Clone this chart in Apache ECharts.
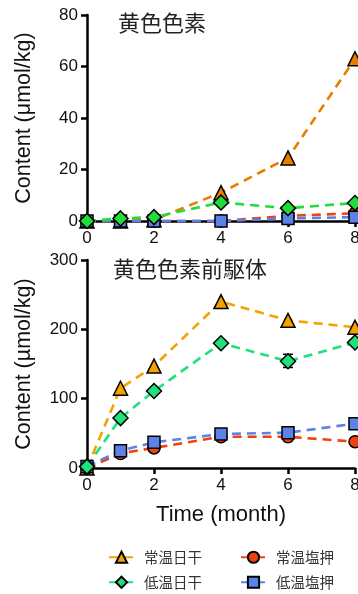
<!DOCTYPE html>
<html><head><meta charset="utf-8">
<script src="https://cdn.jsdelivr.net/npm/echarts@6/dist/echarts.min.js"></script>
<style>html,body{margin:0;padding:0;background:#fff}#c{width:358px;height:594px}</style>
</head><body><div id="c"></div>
<script>
// Data
const months = [0, 1, 2, 4, 6, 8];
const xTicks = [0, 2, 4, 6, 8];
const names = ['常温日干', '常温塩押', '低温日干', '低温塩押'];
const titleTop = '黄色色素';
const titleBottom = '黄色色素前駆体';
// top panel (yellow pigment)
const topNormalSun = [0, 0, 0.5, 11, 24.5, 63];
const topNormalSalt = [0, 0, 0, 0, 2, 3];
const topLowSun = [0, 1, 1.5, 7.2, 5, 7];
const topLowSalt = [0, 0, 0, 0, 1, 1.5];
// bottom panel (precursor)
const botNormalSun = [0, 115, 147, 240, 213, 203];
const botNormalSalt = [0, 21, 29, 45, 45, 38];
const botLowSun = [2, 72, 111, 180, 154, 181];
const botLowSalt = [2, 25, 37, 49, 51, 64];
// error bar on bottom 低温日干 at 6 months: [x, low, high]
const botLowSunErr = [[6, 145, 164]];

const FONT = 'Liberation Sans, Arial, Helvetica, sans-serif';
const CJK = '"Noto Sans CJK JP", "Noto Sans CJK SC", sans-serif';

function pts(vals) { return months.map((m, i) => [m, vals[i]]); }

const styles = {
  '常温日干': {sym: 'triangle', size: 14, top: '#E87D00', bot: '#F5A100'},
  '常温塩押': {sym: 'circle', size: 12, top: '#F2410D', bot: '#F2410D'},
  '低温日干': {sym: 'diamond', size: 15, top: '#20DD3A', bot: '#1EE07C'},
  '低温塩押': {sym: 'rect', size: 12, top: '#5A82E8', bot: '#5A82E8'}
};

function mk(name, vals, idx, which) {
  const st = styles[name];
  const col = st[which];
  return {
    name: name, type: 'line', xAxisIndex: idx, yAxisIndex: idx,
    data: pts(vals), symbol: st.sym, symbolSize: st.size, clip: false,
    lineStyle: {color: col, width: 2.6, type: [9, 6]},
    itemStyle: {color: col, borderColor: '#000', borderWidth: 1.5},
    emphasis: {disabled: true}
  };
}

const axisLine = {show: true, lineStyle: {color: '#000', width: 2.5}};
const axisTick = {show: true, length: 6, lineStyle: {color: '#000', width: 2.5}};

const chart = echarts.init(document.getElementById('c'), null, {renderer: 'canvas'});
chart.setOption({
  animation: false,
  backgroundColor: '#fff',
  title: [
    {text: titleTop, left: 113, top: 7, textStyle: {fontFamily: CJK, fontSize: 22, fontWeight: 'normal', color: '#222'}},
    {text: titleBottom, left: 108, top: 253, textStyle: {fontFamily: CJK, fontSize: 22, fontWeight: 'normal', color: '#222'}}
  ],
  grid: [
    {left: 87, top: 15, width: 268, height: 206, outerBoundsMode: 'none', containLabel: false},
    {left: 87, top: 260, width: 268, height: 208, outerBoundsMode: 'none', containLabel: false}
  ],
  xAxis: [0, 1].map(i => ({
    gridIndex: i, type: 'value', min: 0, max: 8, interval: 2,
    axisLine: axisLine, axisTick: axisTick, splitLine: {show: false},
    axisLabel: {color: '#111', fontFamily: FONT, fontSize: 17, margin: 9, showMaxLabel: true},
    name: i === 1 ? 'Time (month)' : '', nameLocation: 'middle', nameGap: 36,
    nameTextStyle: {color: '#111', fontFamily: FONT, fontSize: 22}
  })),
  yAxis: [
    {gridIndex: 0, type: 'value', min: 0, max: 80, interval: 20},
    {gridIndex: 1, type: 'value', min: 0, max: 300, interval: 100}
  ].map((a, i) => Object.assign(a, {
    axisLine: axisLine, axisTick: axisTick, splitLine: {show: false},
    axisLabel: {color: '#111', fontFamily: FONT, fontSize: 17, margin: 9},
    name: i === 0 ? 'Content (\u03bcmol/kg)' : 'Content (\u00b5mol/kg)',
    nameLocation: 'middle', nameGap: 52,
    nameTextStyle: {color: '#111', fontFamily: FONT, fontSize: 21.5}
  })),
  legend: [
    {data: ['常温日干', '常温塩押'], left: 103, top: 545, itemWidth: 25, itemHeight: 14, itemGap: 38,
     textStyle: {fontFamily: CJK, fontSize: 14.5, color: '#333', padding: [0, 0, 0, 5]}, selectedMode: false},
    {data: ['低温日干', '低温塩押'], left: 103, top: 570, itemWidth: 25, itemHeight: 14, itemGap: 38,
     textStyle: {fontFamily: CJK, fontSize: 14.5, color: '#333', padding: [0, 0, 0, 5]}, selectedMode: false}
  ],
  series: [
    mk('常温日干', botNormalSun, 1, 'bot'),
    mk('常温塩押', botNormalSalt, 1, 'bot'),
    mk('低温塩押', botLowSalt, 1, 'bot'),
    mk('低温日干', botLowSun, 1, 'bot'),
    {
      type: 'custom', xAxisIndex: 1, yAxisIndex: 1, data: botLowSunErr, z: 1,
      renderItem: function (params, api) {
        const x = api.value(0), lo = api.value(1), hi = api.value(2);
        const p1 = api.coord([x, lo]), p2 = api.coord([x, hi]);
        const w = 5;
        const s = {stroke: '#000', lineWidth: 1.5};
        return {type: 'group', children: [
          {type: 'line', shape: {x1: p1[0], y1: p1[1], x2: p2[0], y2: p2[1]}, style: s},
          {type: 'line', shape: {x1: p1[0] - w, y1: p1[1], x2: p1[0] + w, y2: p1[1]}, style: s},
          {type: 'line', shape: {x1: p2[0] - w, y1: p2[1], x2: p2[0] + w, y2: p2[1]}, style: s}
        ]};
      }
    },
    mk('常温日干', topNormalSun, 0, 'top'),
    mk('常温塩押', topNormalSalt, 0, 'top'),
    mk('低温塩押', topLowSalt, 0, 'top'),
    mk('低温日干', topLowSun, 0, 'top')
  ]
});
</script></body></html>
